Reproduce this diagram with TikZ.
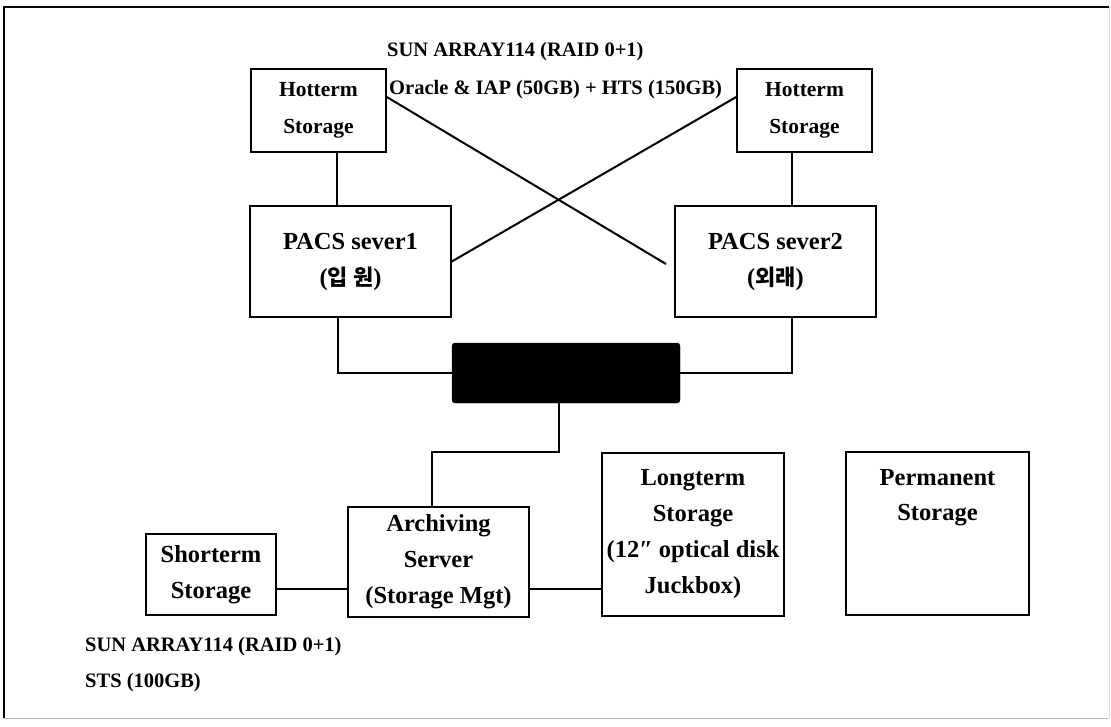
\documentclass[tikz,border=0pt]{standalone}
\usepackage{fontspec}
\setmainfont{Liberation Serif}
\newfontfamily\krfont{Noto Sans CJK KR}
\usetikzlibrary{calc}
\begin{document}
\begin{tikzpicture}[x=1pt,y=-1pt,
  box/.style={draw, line width=1.6pt, inner sep=0pt, align=center,
    font=\bfseries\fontsize{24.5}{36}\selectfont},
  hotbox/.style={box, font=\bfseries\fontsize{21.5}{37}\selectfont},
  wire/.style={line width=2pt},
  lbl/.style={anchor=west, inner sep=0pt, font=\bfseries\fontsize{20.5}{24}\selectfont}]
\useasboundingbox (0,0) rectangle (1111,726);
% frame
\draw[line width=1.2pt] (4,718) -- (4,7) -- (1109,7);
\draw[line width=0.8pt, gray!55] (4,718) -- (1109,718);
\draw[line width=0.6pt, gray!30] (1109,7) -- (1109,718);

% hot-term storage
\node[hotbox, minimum width=135pt, minimum height=83pt] (hotL) at (318.5,110.5) {Hotterm\\Storage};
\node[hotbox, minimum width=135pt, minimum height=83pt] (hotR) at (804.5,110.5) {Hotterm\\Storage};

% PACS servers
\node[box, minimum width=201pt, minimum height=111pt] (pacsA) at (350.5,261.5)
  {PACS sever1\\({\krfont\fontsize{22}{36}\selectfont 입 원})};
\node[box, minimum width=201pt, minimum height=111pt] (pacsB) at (775.5,261.5)
  {PACS sever2\\({\krfont\fontsize{22}{36}\selectfont 외래})};

% switch
\node[fill=black, draw=black, rounded corners=3pt, minimum width=228pt, minimum height=60pt, inner sep=0pt] (hub) at (566,373) {};

% lower tier
\node[box, minimum width=130pt, minimum height=81pt] (short) at (211,574.5) {Shorterm\\Storage};
\node[box, minimum width=181pt, minimum height=110pt] (arch) at (438.5,562) {Archiving\\Server\\(Storage Mgt)};
\node[box, minimum width=182pt, minimum height=163pt] (long) at (693,534.5) {Longterm\\Storage\\(12″ optical disk\\Juckbox)};
\node[box, minimum width=183pt, minimum height=163pt] (perm) at (937.5,533.5) {};
\node[inner sep=0pt, align=center, font=\bfseries\fontsize{24.5}{35}\selectfont] (permtext) at (937.5,497.5) {Permanent\\Storage};

% captions
\node[lbl] (capTopA) at (387,52) {SUN ARRAY114 (RAID 0+1)};
\node[lbl] (capTopB) at (389,90) {Oracle \& IAP (50GB) + HTS (150GB)};
\node[lbl] (capLowA) at (85,647) {SUN ARRAY114 (RAID 0+1)};
\node[lbl] (capLowB) at (85,683) {STS (100GB)};

% connectors
\coordinate (vL) at (337,0);
\coordinate (vR) at (792,0);
\coordinate (dA) at (338,0);
\coordinate (j1) at (559,452);
\coordinate (lowbus) at (0,589);
\coordinate (xEnd) at (666,264);

\draw[wire] (hotL.south -| vL) -- (pacsA.north -| vL);
\draw[wire] (hotR.south -| vR) -- (pacsB.north -| vR);
\draw[wire] ([yshift=13.5pt]hotL.east) -- (xEnd);
\draw[wire] ([yshift=13.5pt]hotR.west) -- (pacsA.east);
\draw[wire] (pacsA.south -| dA) |- (hub.west);
\draw[wire] (pacsB.south -| vR) |- (hub.east);
\draw[wire] (hub.south -| j1) -- (j1) -| ([xshift=-6.5pt]arch.north);
\draw[wire] (short.east |- lowbus) -- (arch.west |- lowbus);
\draw[wire] (arch.east |- lowbus) -- (long.west |- lowbus);
\end{tikzpicture}
\end{document}
